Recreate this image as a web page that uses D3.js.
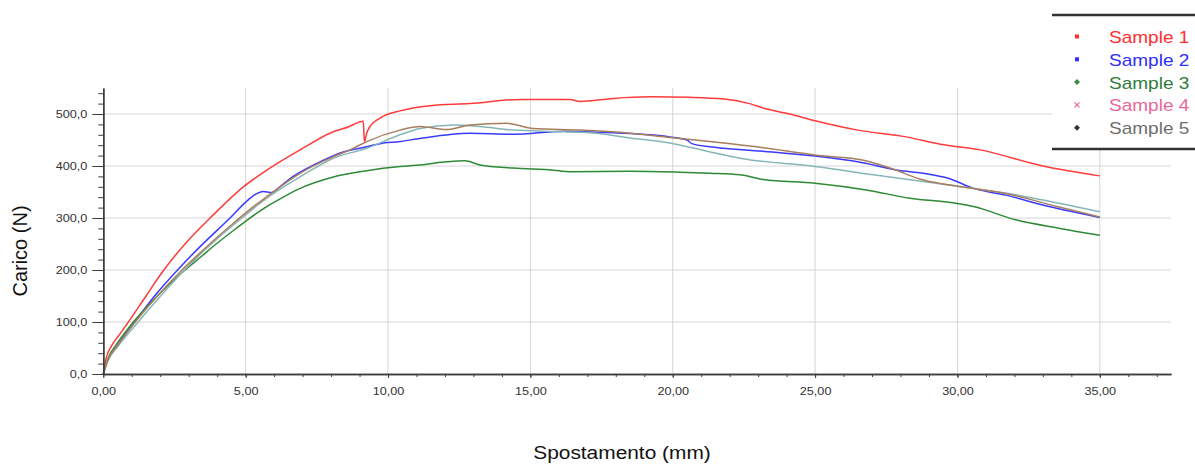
<!DOCTYPE html>
<html><head><meta charset="utf-8">
<script src="https://cdn.jsdelivr.net/npm/d3@7"></script>
<style>
html,body{margin:0;padding:0;background:#fff;}
svg{display:block;font-family:"Liberation Sans",Arial,sans-serif;}
</style></head>
<body>
<svg id="chart" width="1195" height="464"></svg>
<script>
// ---------- data ----------
const seriesNames = ["Sample 1","Sample 2","Sample 3","Sample 4","Sample 5"];
const xTicks = [0,5,10,15,20,25,30,35];
const yTicks = [0,100,200,300,400,500];

const sample1 = [[0,0],[0.1,30],[0.3,55],[0.6,78],[0.88,100],[1.5,150],[2.1,198],[2.9,252],[3.75,300],[4.92,360],[5.74,392],[6.91,431],[8.08,466],[8.6,475],[9.13,486],[9.17,447],[9.25,463],[9.37,476],[9.72,492],[10.42,506],[11.48,516],[12.88,520],[14.64,528],[16.39,528],[16.74,524],[17.91,530],[19.2,533],[20.6,532],[21.8,529],[22.7,520],[23.2,511],[24.1,500],[25,487],[26.5,469],[28.2,456],[29.4,442],[30.8,431],[33,400],[35,381]];
const sample2 = [[0,0],[0.15,25],[0.5,55],[1.05,96],[1.8,150],[2.69,205],[3.4,245],[4.45,300],[5.09,335],[5.39,347],[5.62,351],[5.91,349],[6.2,360],[6.67,380],[7.5,405],[8.43,427],[9.25,437],[9.72,443],[10.42,447],[11.12,453],[12.88,463],[14.4,461],[16.16,467],[17.91,464],[19.9,456],[20.5,450],[20.67,443],[21.31,437],[21.78,434],[23.5,427],[25,419],[26.5,408],[27.9,392],[28.8,386],[29.7,376],[30.56,357],[31.7,344],[33,325],[35,301]];
const sample3 = [[0,0],[0.15,28],[0.5,60],[0.88,88],[1.81,145],[2.87,200],[3.4,224],[3.92,248],[4.57,276],[4.98,293],[5.74,322],[6.15,335],[6.91,357],[8.08,379],[9.25,391],[10.42,399],[11.12,402],[12.06,408],[12.7,410],[13.23,402],[14.4,396],[15.8,392],[16.39,389],[18.5,390],[20.26,388],[21.31,386],[22.36,383],[23.18,374],[25,367],[26.8,354],[28.33,338],[30,328],[30.56,322],[32.08,296],[33.6,280],[35,267]];
const sample4 = [[0,0],[0.15,24],[0.5,52],[1.1,92],[1.95,146],[2.85,200],[3.4,230],[4.0,260],[4.6,288],[5.0,306],[5.74,338],[6.91,379],[8.08,415],[9.25,434],[10.42,460],[11.12,472],[12.3,479],[13.23,476],[14.4,469],[16.16,466],[17.33,463],[18.5,454],[20.02,443],[21.31,427],[22.36,415],[25,399],[27.05,383],[28.8,370],[30.56,357],[32.3,342],[35,312]];
const sample5 = [[0,0],[0.15,26],[0.5,55],[1.05,95],[1.9,150],[2.8,202],[3.4,233],[4.0,263],[4.57,290],[5.0,310],[5.74,341],[6.91,386],[8.08,418],[8.67,431],[9.25,447],[10.42,469],[11.12,476],[12.06,470],[12.88,479],[14.17,482],[15.1,472],[16.74,469],[18.5,463],[19.9,455],[21.31,447],[22.95,437],[25,421],[26.7,411],[27.63,396],[28.8,373],[30,361],[31.7,347],[33.5,322],[35,302]];

const seriesData = [sample1,sample2,sample3,sample4,sample5];
const lineColors = ["#ff3b3b","#3a3aff","#2f8a35","#86b6b8","#a87e5e"];
const legendColors = ["#ff2e2e","#2e2eff","#2e7d3a","#e8679b","#6e6e6e"];

// ---------- layout ----------
const svg = d3.select("#chart");
const x = d3.scaleLinear().domain([0,37.5]).range([103.3,1171]);
const y = d3.scaleLinear().domain([0,550]).range([374,88]);
const loc = d3.formatLocale({decimal:",",thousands:".",grouping:[3],currency:["",""]});
const fx = loc.format(".2f"), fy = loc.format(".1f");

// grid
const grid = svg.append("g");
grid.selectAll(".vg").data(xTicks.slice(1)).join("line")
  .attr("x1",d=>x(d)).attr("x2",d=>x(d)).attr("y1",y(550)).attr("y2",y(0))
  .attr("stroke","#d6d6d6").attr("stroke-width",1);
grid.selectAll(".hg").data(yTicks.slice(1)).join("line")
  .attr("x1",x(0)).attr("x2",x(37.5)).attr("y1",d=>y(d)).attr("y2",d=>y(d))
  .attr("stroke","#d6d6d6").attr("stroke-width",1);

// lines
const line = d3.line().x(d=>x(d[0])).y(d=>y(d[1])).curve(d3.curveMonotoneX);
svg.append("g").selectAll("path").data(seriesData).join("path")
  .attr("d",line).attr("fill","none")
  .attr("stroke",(d,i)=>lineColors[i]).attr("stroke-width",1.5);

// axes
const axisColor = "#3c3c3c";
const xMinor = svg.append("g").attr("transform",`translate(0,${y(0)})`)
  .call(d3.axisBottom(x).tickValues(d3.range(0,38,1)).tickSize(3).tickSizeOuter(0).tickFormat(""));
const xMajor = svg.append("g").attr("transform",`translate(0,${y(0)})`)
  .call(d3.axisBottom(x).tickValues(xTicks).tickSize(4).tickSizeOuter(0).tickPadding(9).tickFormat(fx));
const yMinor = svg.append("g").attr("transform",`translate(${x(0)},0)`)
  .call(d3.axisLeft(y).tickValues(d3.range(0,560,20)).tickSize(5).tickSizeOuter(0).tickFormat(""));
const yMajor = svg.append("g").attr("transform",`translate(${x(0)},0)`)
  .call(d3.axisLeft(y).tickValues(yTicks).tickSize(11).tickSizeOuter(0).tickFormat(fy));

[xMinor,xMajor,yMinor,yMajor].forEach(g=>{
  g.selectAll("path.domain").attr("stroke",axisColor).attr("stroke-width",1.4);
  g.selectAll(".tick line").attr("stroke",axisColor);
});
xMajor.selectAll(".tick text").attr("font-size",11).attr("fill","#333")
  .attr("font-family","Liberation Sans, Arial, sans-serif")
  .attr("transform","scale(1.15,1)");
yMajor.selectAll(".tick text").attr("font-size",11).attr("fill","#333")
  .attr("font-family","Liberation Sans, Arial, sans-serif")
  .attr("x",0).attr("transform","translate(-16,0) scale(1.15,1)");

// axis titles
svg.append("text").attr("transform",`translate(622,459) scale(1.13,1)`)
  .attr("text-anchor","middle").attr("font-size",18.5).attr("fill","#111")
  .text("Spostamento (mm)");
svg.append("text").attr("transform",`translate(27,251) rotate(-90)`)
  .attr("text-anchor","middle").attr("font-size",20).attr("fill","#111")
  .text("Carico (N)");

// legend
const lg = svg.append("g");
lg.append("rect").attr("x",1052).attr("y",15).attr("width",150).attr("height",134).attr("fill","#fff");
lg.append("line").attr("x1",1052).attr("x2",1195).attr("y1",15).attr("y2",15).attr("stroke","#333").attr("stroke-width",2.5);
lg.append("line").attr("x1",1052).attr("x2",1195).attr("y1",149).attr("y2",149).attr("stroke","#333").attr("stroke-width",2.5);
const rows = lg.selectAll("g.row").data(seriesNames).join("g").attr("class","row")
  .attr("transform",(d,i)=>`translate(0,${36.5+i*22.8})`);
rows.each(function(d,i){
  const g = d3.select(this), c = legendColors[i];
  if(i<2){
    g.append("rect").attr("x",1075).attr("y",-2).attr("width",4).attr("height",4).attr("fill",c);
  } else if(i===3){
    g.append("path").attr("d","M1074.5,-2.5L1079.5,2.5M1079.5,-2.5L1074.5,2.5").attr("stroke",c).attr("stroke-width",1.3);
  } else {
    const mc = i===2 ? "#3f8a4a" : "#333";
    g.append("path").attr("d","M1077,-3L1080,0L1077,3L1074,0Z").attr("fill",mc);
  }
  g.append("text").attr("transform","translate(1109,6.5) scale(1.12,1)")
    .attr("font-size",17).attr("fill",c).text(d);
});
</script>
</body></html>
